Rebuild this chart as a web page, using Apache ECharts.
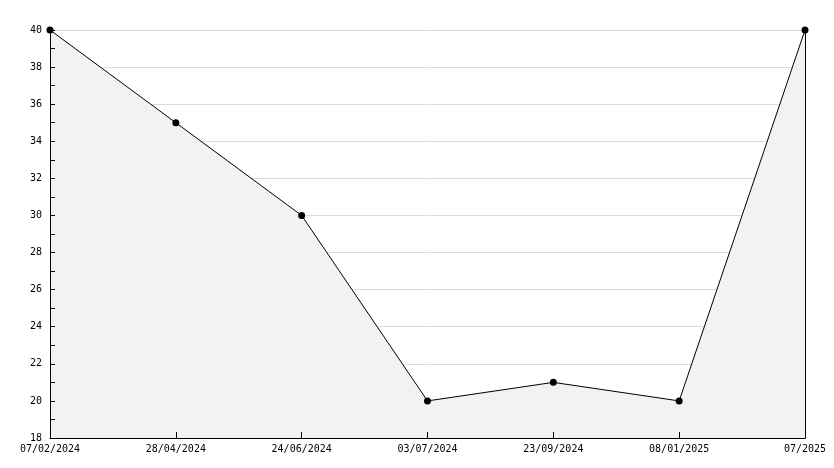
<!DOCTYPE html>
<html><head><meta charset="utf-8">
<script src="https://cdn.jsdelivr.net/npm/echarts@6/dist/echarts.min.js"></script>
<style>html,body{margin:0;padding:0;background:#fff}#c{width:834px;height:468px}</style>
</head><body><div id="c"></div>
<script>
const categories = ['07/02/2024','28/04/2024','24/06/2024','03/07/2024','23/09/2024','08/01/2025','07/2025'];
const values = [40, 35, 30, 20, 21, 20, 40];
const yMin = 18, yMax = 40, yStep = 2;
const font = 'DejaVu Sans Mono';
const chart = echarts.init(document.getElementById('c'));
chart.setOption({
  animation: false,
  grid: {left: 50, right: 29, top: 30, bottom: 30},
  xAxis: {
    type: 'category', data: categories, boundaryGap: false, z: 10,
    axisLine: {lineStyle: {color: '#000', width: 1}},
    axisTick: {inside: true, length: 6, lineStyle: {color: '#000'}},
    axisLabel: {color: '#000', fontFamily: font, fontSize: 10, margin: 6, showMinLabel: true, showMaxLabel: true, interval: 0},
    splitLine: {show: false}
  },
  yAxis: [{
    type: 'value', min: yMin, max: yMax, interval: yStep, z: 0,
    axisLine: {show: false}, axisTick: {show: false}, axisLabel: {show: false},
    splitLine: {show: true, lineStyle: {color: '#dcdcdc', width: 1}}
  }, {
    type: 'value', min: yMin, max: yMax, interval: yStep, position: 'left', z: 10,
    axisLine: {show: true, lineStyle: {color: '#000', width: 1}},
    axisTick: {show: true, inside: true, length: 5, lineStyle: {color: '#000'}},
    minorTick: {show: true, splitNumber: 2, length: 5, lineStyle: {color: '#000'}},
    axisLabel: {color: '#000', fontFamily: font, fontSize: 10, margin: 8},
    splitLine: {show: false}
  }, {
    type: 'value', min: yMin, max: yMax, interval: yStep, position: 'right', z: 10,
    axisLine: {show: true, lineStyle: {color: '#000', width: 1}},
    axisTick: {show: false}, axisLabel: {show: false}, splitLine: {show: false}
  }],
  series: [{
    type: 'line', data: values, yAxisIndex: 0, z: 5,
    symbol: 'circle', symbolSize: 7,
    itemStyle: {color: '#000'},
    lineStyle: {color: '#000', width: 1},
    areaStyle: {color: '#f2f2f2', opacity: 1, origin: 'start'}
  }]
});
</script></body></html>
